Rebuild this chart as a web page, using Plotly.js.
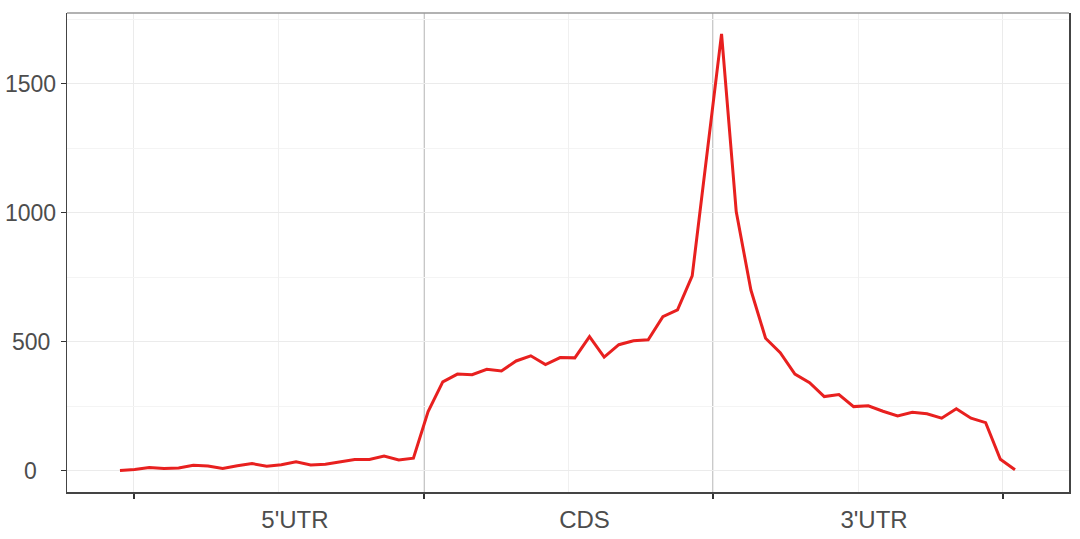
<!DOCTYPE html>
<html>
<head>
<meta charset="utf-8">
<script src="https://cdn.plot.ly/plotly-3.0.1.min.js"></script>
<style>html,body{margin:0;padding:0;background:#fff;}#chart{width:1080px;height:539px;}</style>
</head>
<body>
<div id="chart"></div>
<script>
// Region names
const regions = ["5'UTR", "CDS", "3'UTR"];
// Coverage values per bin, by region
const utr5Values = [0, 4, 12, 8, 10, 21, 18, 8, 19, 27, 17, 23, 34, 22, 25, 34, 43, 43, 56, 41, 48];
const cdsValues = [229, 344, 374, 372, 393, 386, 425, 445, 411, 438, 437, 519, 440, 488, 503, 507, 597, 623, 755, 1215];
const utr3Values = [1693, 1004, 700, 513, 457, 374, 341, 287, 295, 248, 251, 230, 212, 226, 220, 203, 240, 203, 186, 44, 3];
const yTicks = [0, 500, 1000, 1500];

const values = utr5Values.concat(cdsValues, utr3Values);
const xIdx = values.map((_, i) => i);

// region boundary positions (in bin-index units) used for ticks / separators
const bounds = [0.954, 20.72, 40.42, 60.18];
const centers = [0, 1, 2].map(k => (bounds[k] + bounds[k + 1]) / 2);

const fam = "Liberation Sans, Arial, Helvetica, sans-serif";
const txtColor = '#4d4d4d';

const trace = {
  x: xIdx, y: values, type: 'scatter', mode: 'lines',
  line: {color: '#e8201f', width: 3},
  hoverinfo: 'skip'
};

// centered y tick labels (ggplot style)
const yAnn = yTicks.map(v => ({
  xref: 'paper', yref: 'y', x: -0.036, y: v, xanchor: 'center', yanchor: 'middle',
  text: String(v), showarrow: false, font: {family: fam, size: 23, color: txtColor}
}));

const layout = {
  width: 1080, height: 539,
  margin: {l: 67, r: 11, t: 13, b: 47},
  paper_bgcolor: '#ffffff', plot_bgcolor: '#ffffff',
  showlegend: false,
  font: {family: fam, color: txtColor},
  xaxis: {
    range: [-3.61, 64.68],
    tickmode: 'array', tickvals: centers, ticktext: regions,
    ticks: '', showgrid: true, gridcolor: '#f0f0f0', gridwidth: 1,
    zeroline: false, showline: true, linecolor: '#444444', linewidth: 1.5,
    tickfont: {family: fam, size: 24, color: txtColor},
    ticklabelstandoff: 6, ticklabelshift: 16,
    minor: {tickmode: 'array', tickvals: bounds, ticks: 'outside', ticklen: 5,
            tickcolor: '#333333', tickwidth: 1.2, showgrid: true, gridcolor: '#ebebeb', gridwidth: 1}
  },
  yaxis: {
    range: [-83, 1774],
    tickmode: 'array', tickvals: yTicks, showticklabels: false,
    ticks: 'outside', ticklen: 5, tickcolor: '#333333', tickwidth: 1.2,
    showgrid: true, gridcolor: '#ebebeb', gridwidth: 1,
    zeroline: false, showline: true, linecolor: '#444444', linewidth: 1.5, mirror: true,
    minor: {dtick: 250, tick0: 0, ticks: '', showgrid: true, gridcolor: '#f4f4f4', gridwidth: 1}
  },
  annotations: yAnn,
  shapes: [
    {type: 'line', xref: 'x', yref: 'paper', x0: bounds[1], x1: bounds[1], y0: 0, y1: 1,
     line: {color: '#a8a8a8', width: 1.3}, layer: 'below'},
    {type: 'line', xref: 'x', yref: 'paper', x0: bounds[2], x1: bounds[2], y0: 0, y1: 1,
     line: {color: '#a8a8a8', width: 1.3}, layer: 'below'},
    {type: 'line', xref: 'paper', yref: 'paper', x0: 0, x1: 1, y0: 1, y1: 1,
     line: {color: '#999999', width: 1.5}}
  ]
};

Plotly.newPlot('chart', [trace], layout, {displayModeBar: false, staticPlot: true});
</script>
</body>
</html>
